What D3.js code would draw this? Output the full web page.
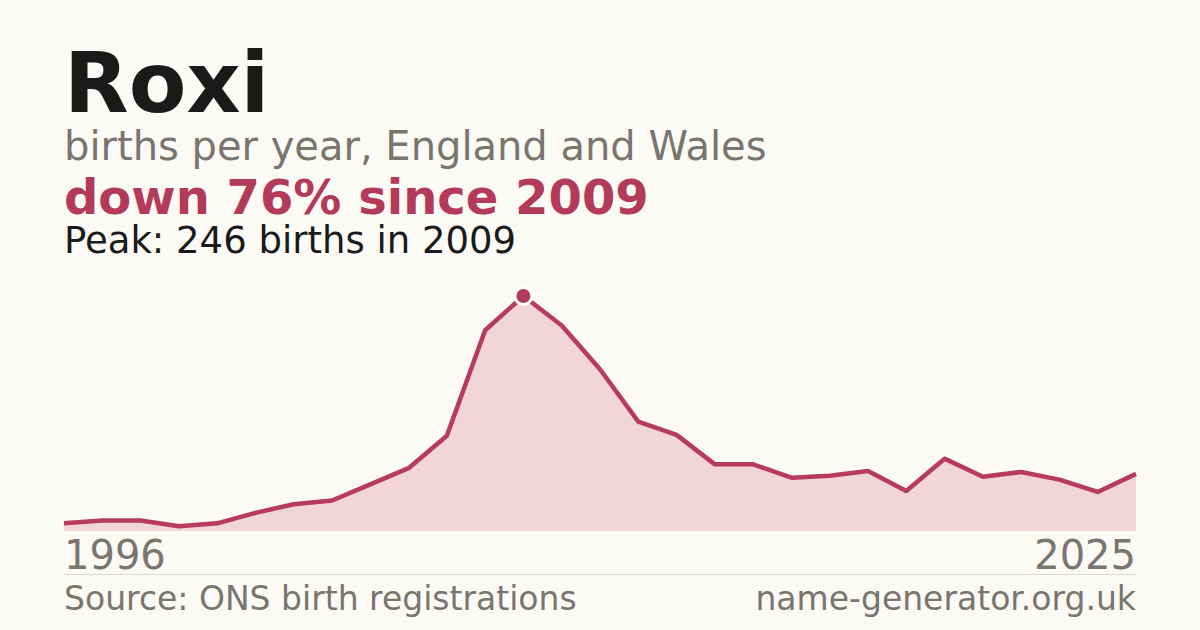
<!DOCTYPE html>
<html>
<head>
<meta charset="utf-8">
<script src="https://cdn.jsdelivr.net/npm/d3@7/dist/d3.min.js"></script>
<style>
  html, body { margin: 0; padding: 0; background: #fbfaf5; }
  svg { display: block; }
  text { font-family: "DejaVu Sans", sans-serif; }
</style>
</head>
<body>
<svg id="chart" width="1200" height="630"></svg>
<script>
// Data
const years = [1997, 1998, 1999, 2000, 2001, 2002, 2003, 2004, 2005, 2006, 2007, 2008, 2009, 2010,
               2011, 2012, 2013, 2014, 2015, 2016, 2017, 2018, 2019, 2020, 2021, 2022, 2023, 2024, 2025];
const births = [7, 10, 10, 4, 7, 18, 27, 31, 48, 65, 99, 210, 246, 215,
                169, 114, 100, 69, 69, 55, 57, 62, 41, 75, 56, 61, 53, 40, 59];
const tickLabels = ["1996", "2025"];
const titleText = "Roxi";
const subtitleText = "births per year, England and Wales";
const changeText = "down 76% since 2009";
const peakText = "Peak: 246 births in 2009";
const sourceText = "Source: ONS birth registrations";
const siteText = "name-generator.org.uk";

const svg = d3.select("#chart");
const W = 1200, H = 630;
const plotLeft = 64, plotRight = 1136, plotTop = 296, plotBottom = 530;

svg.append("rect").attr("width", W).attr("height", H).attr("fill", "#fbfaf5");

const data = years.map((yr, i) => ({ year: yr, value: births[i] }));

const x = d3.scaleLinear().domain(d3.extent(years)).range([plotLeft, plotRight]);
const y = d3.scaleLinear().domain([0, d3.max(births)]).range([plotBottom, plotTop]);

// Headings
svg.append("text").attr("x", 64).attr("y", 112)
  .attr("font-size", 84).attr("font-weight", "bold").attr("fill", "#1a1a1a").text(titleText);
svg.append("text").attr("x", 64).attr("y", 160)
  .attr("font-size", 40).attr("fill", "#7a756e").text(subtitleText);
svg.append("text").attr("x", 64).attr("y", 214)
  .attr("font-size", 48).attr("font-weight", "bold").attr("fill", "#b33a58").text(changeText);
svg.append("text").attr("x", 64).attr("y", 253)
  .attr("font-size", 37).attr("fill", "#1a1a1a").text(peakText);

// Area
const area = d3.area().x(d => x(d.year)).y0(y(0)).y1(d => y(d.value));
svg.append("path").datum(data).attr("d", area).attr("fill", "#f2d5da");

// Baseline
svg.append("line").attr("x1", plotLeft).attr("x2", plotRight).attr("y1", y(0) + 0.5).attr("y2", y(0) + 0.5)
  .attr("stroke", "#e4dcd8").attr("stroke-width", 1);

// Line
const line = d3.line().x(d => x(d.year)).y(d => y(d.value));
svg.append("path").datum(data).attr("d", line)
  .attr("fill", "none").attr("stroke", "#b63b5c").attr("stroke-width", 4.5)
  .attr("stroke-linejoin", "round").attr("stroke-linecap", "butt");

// Peak marker
const peak = data.reduce((a, b) => (b.value > a.value ? b : a));
svg.append("circle").attr("cx", x(peak.year)).attr("cy", y(peak.value)).attr("r", 8.5)
  .attr("fill", "#b33a58").attr("stroke", "#ffffff").attr("stroke-width", 3);

// Axis labels
svg.append("text").attr("x", plotLeft).attr("y", 569)
  .attr("font-size", 40).attr("fill", "#7a756e").attr("text-anchor", "start").text(tickLabels[0]);
svg.append("text").attr("x", plotRight).attr("y", 569)
  .attr("font-size", 40).attr("fill", "#7a756e").attr("text-anchor", "end").text(tickLabels[1]);

// Separator
svg.append("line").attr("x1", plotLeft).attr("x2", plotRight).attr("y1", 574.5).attr("y2", 574.5)
  .attr("stroke", "#dddad3").attr("stroke-width", 1);

// Footer
svg.append("text").attr("x", plotLeft).attr("y", 610)
  .attr("font-size", 33).attr("fill", "#7a756e").text(sourceText);
svg.append("text").attr("x", plotRight).attr("y", 610).attr("text-anchor", "end")
  .attr("font-size", 33).attr("fill", "#7a756e").text(siteText);
</script>
</body>
</html>
